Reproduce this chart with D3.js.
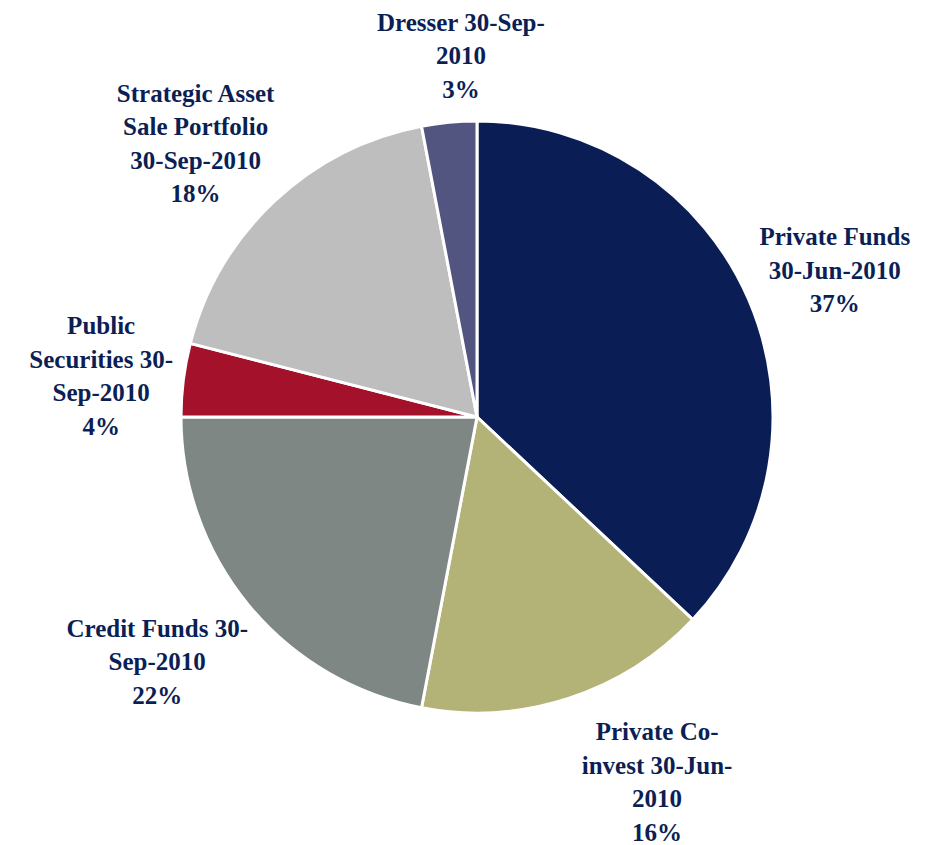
<!DOCTYPE html>
<html>
<head>
<meta charset="utf-8">
<script src="https://cdn.jsdelivr.net/npm/d3@7"></script>
<style>
  html, body { margin: 0; padding: 0; background: #fff; }
</style>
</head>
<body>
<div id="chart"></div>
<script>
// slices, clockwise from 12 o'clock
const categories = [
  ["Private Funds", "30-Jun-2010"],
  ["Private Co-", "invest 30-Jun-", "2010"],
  ["Credit Funds 30-", "Sep-2010"],
  ["Public", "Securities 30-", "Sep-2010"],
  ["Strategic Asset", "Sale Portfolio", "30-Sep-2010"],
  ["Dresser 30-Sep-", "2010"]
];
const values = [37, 16, 22, 4, 18, 3];
const colors = ["#0b1d55", "#b3b378", "#7f8785", "#a3122a", "#bebebe", "#535581"];

// small hand nudges so labels sit like the original (Excel outside-end)
const labelNudge = [[4, -4], [61, 6], [-11, 15], [3, 6], [-15, 1], [21, -3]];

const width = 927, height = 845;
const cx = 477, cy = 417, radius = 296;
const fontSize = 25, lineH = 33.5;

const svg = d3.select("#chart")
  .append("svg")
  .attr("width", width)
  .attr("height", height);

const data = values.map((v, i) => ({ value: v, lines: categories[i].concat([v + "%"]), color: colors[i] }));

const pie = d3.pie().sort(null).value(d => d.value);
const arc = d3.arc().innerRadius(0).outerRadius(radius);
const arcs = pie(data);

const g = svg.append("g").attr("transform", `translate(${cx},${cy})`);

g.selectAll("path")
  .data(arcs)
  .join("path")
    .attr("d", arc)
    .attr("fill", d => d.data.color)
    .attr("stroke", "#fff")
    .attr("stroke-width", 3)
    .attr("stroke-linejoin", "miter");

const labels = g.selectAll("text")
  .data(arcs)
  .join("text")
    .attr("font-family", "'Liberation Serif', 'Times New Roman', serif")
    .attr("font-weight", "bold")
    .attr("font-size", fontSize)
    .attr("fill", "#0b1f55")
    .attr("text-anchor", "middle");

labels.each(function(d, i) {
  const t = d3.select(this);
  const n = d.data.lines.length;
  d.data.lines.forEach((line, j) => {
    t.append("tspan")
      .attr("x", 0)
      .attr("y", (j - (n - 1) / 2) * lineH)
      .attr("dy", "0.35em")
      .text(line);
  });
  const bb = this.getBBox();
  const w = bb.width, h = n * lineH;
  const a = (d.startAngle + d.endAngle) / 2;
  const s = Math.sin(a), c = -Math.cos(a);
  const ax = s * (radius + 14), ay = c * (radius + 14);
  const lx = ax + s * w / 2 + labelNudge[i][0];
  const ly = ay + c * h / 2 + labelNudge[i][1];
  t.attr("transform", `translate(${lx},${ly})`);
});
</script>
</body>
</html>
